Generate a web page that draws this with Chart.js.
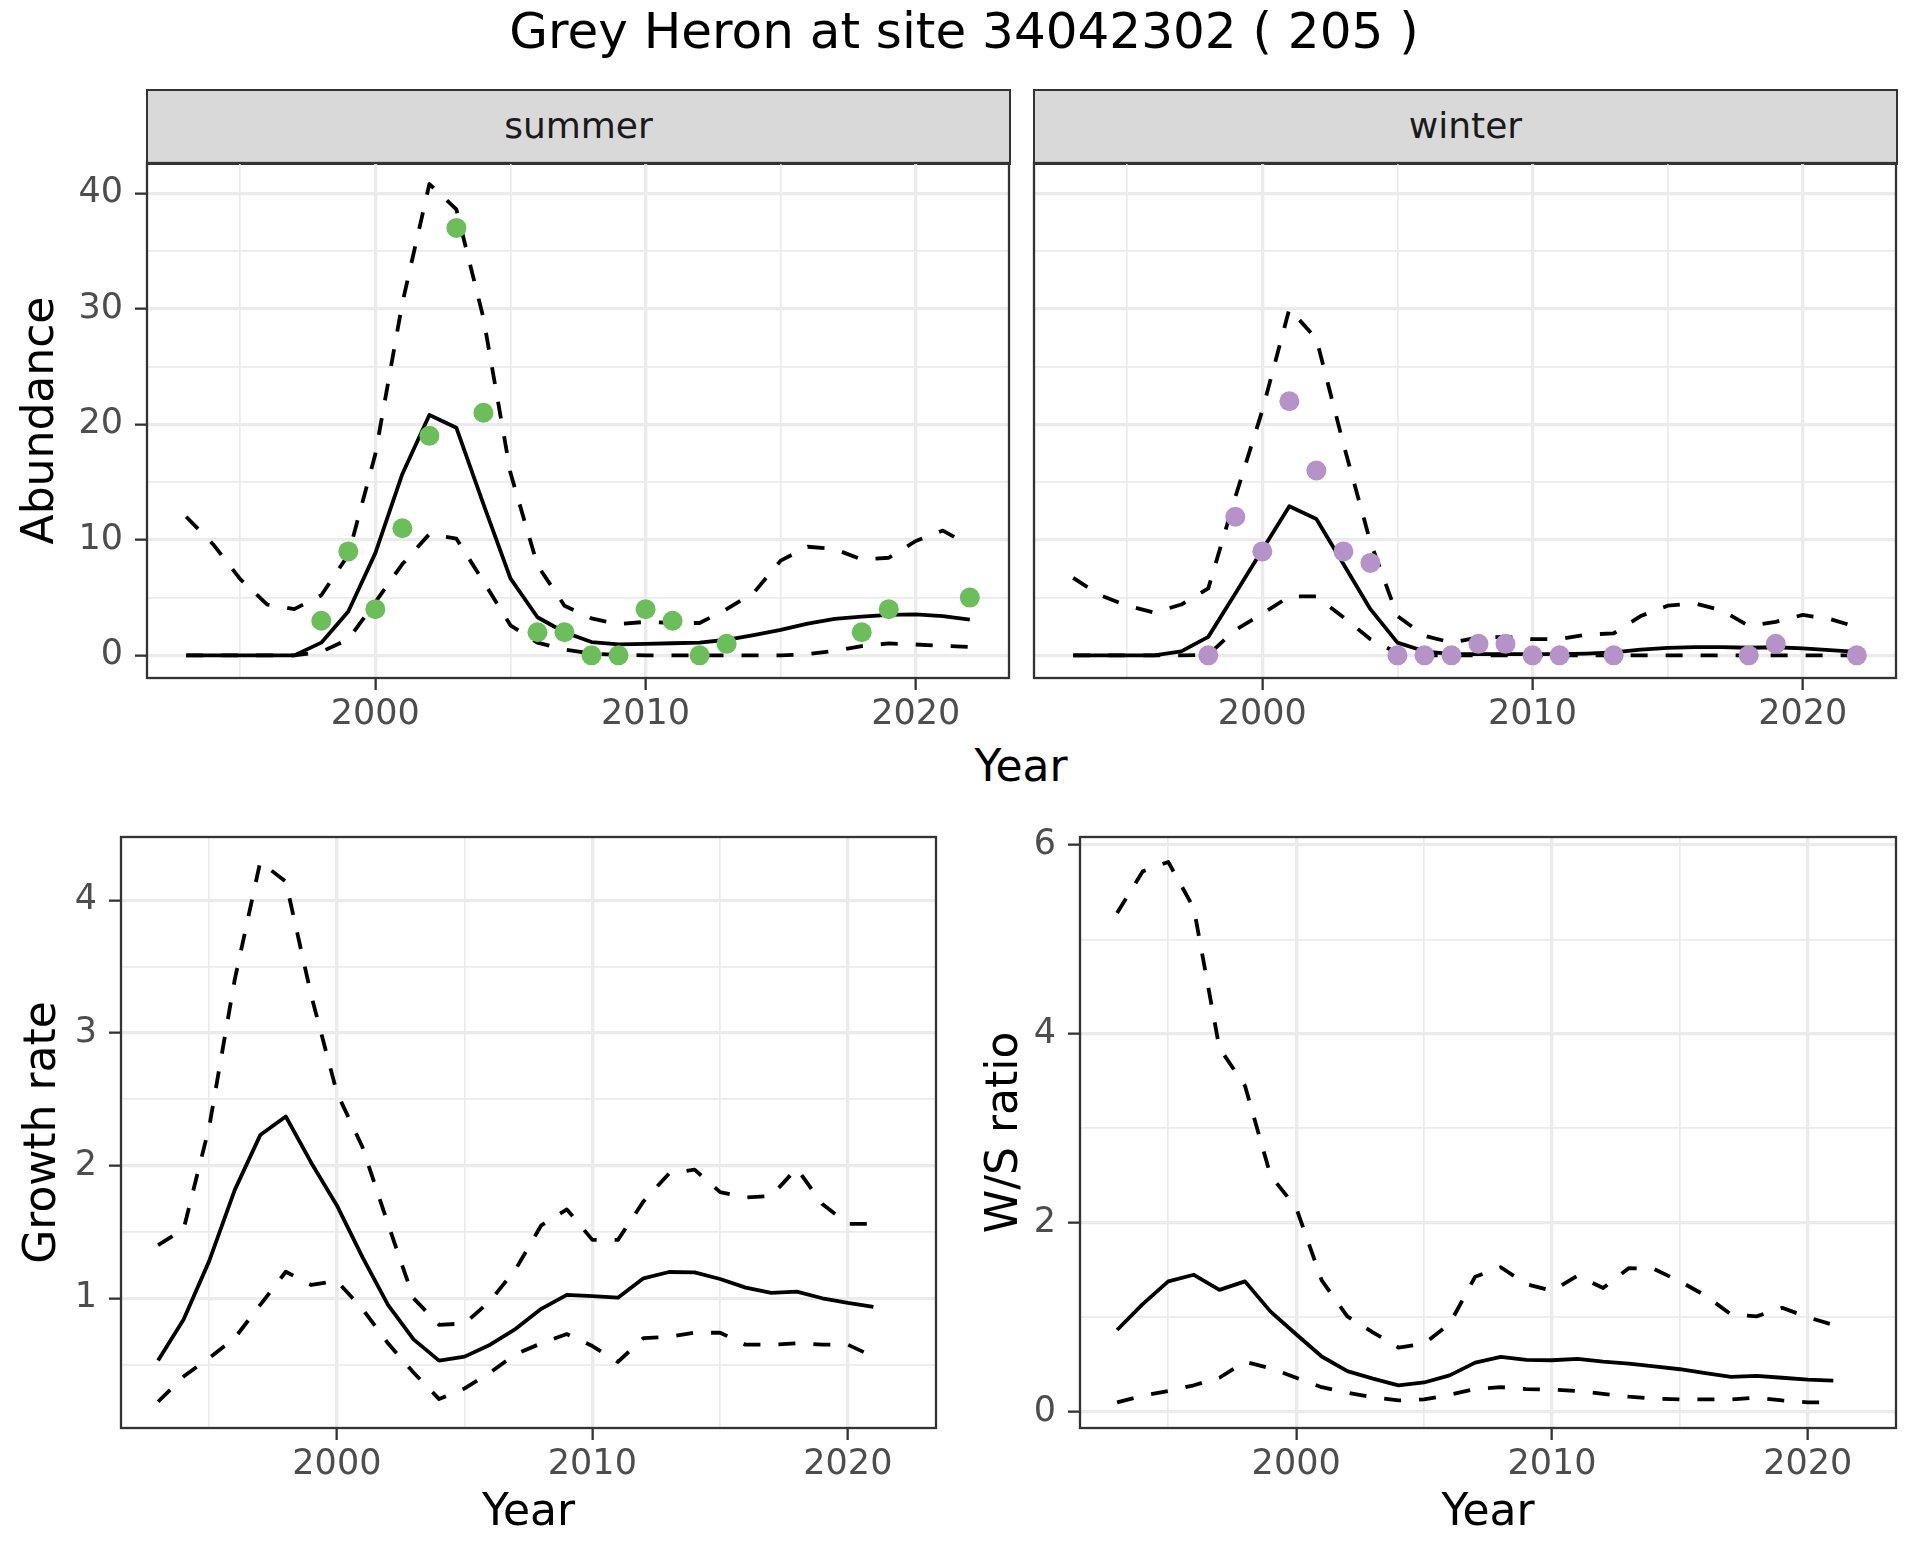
<!DOCTYPE html>
<html>
<head>
<meta charset="utf-8">
<script src="https://cdn.jsdelivr.net/npm/chart.js@4.4.1/dist/chart.umd.min.js"></script>
<style>
  body { margin: 0; width: 1920px; height: 1560px; background: #fff; position: relative; overflow: hidden; font-family: "DejaVu Sans", sans-serif; }
  .abs { position: absolute; }
  #title { left: 4px; top: 6px; width: 1920px; text-align: center; font-size: 50px; line-height: 50px; color: #000; }
  .strip { box-sizing: border-box; background: #D9D9D9; border: 2.3px solid #333333; text-align: center; font-size: 36px; line-height: 70px; color: #1A1A1A; }
  #topYear { left: 0; top: 744px; width: 2042px; text-align: center; font-size: 44px; line-height: 44px; color: #000; }
</style>
</head>
<body>
<div id="title" class="abs">Grey Heron at site 34042302 ( 205 )</div>
<div class="abs strip" style="left:146px;top:89px;width:865px;height:76px;">summer</div>
<div class="abs strip" style="left:1033px;top:89px;width:865px;height:76px;">winter</div>
<div id="topYear" class="abs">Year</div>

<div class="abs" style="left:0;top:139px;width:1013px;height:599px;"><canvas id="summer"></canvas></div>
<div class="abs" style="left:1030px;top:139px;width:870px;height:599px;"><canvas id="winter"></canvas></div>
<div class="abs" style="left:0;top:813px;width:940px;height:747px;"><canvas id="growth"></canvas></div>
<div class="abs" style="left:960px;top:813px;width:940px;height:747px;"><canvas id="ratio"></canvas></div>

<script>
// years
const topYears = [1993, 1994, 1995, 1996, 1997, 1998, 1999, 2000, 2001, 2002, 2003, 2004, 2005, 2006, 2007,
  2008, 2009, 2010, 2011, 2012, 2013, 2014, 2015, 2016, 2017, 2018, 2019, 2020, 2021, 2022];
const rateYears = [1993, 1994, 1995, 1996, 1997, 1998, 1999, 2000, 2001, 2002, 2003, 2004, 2005, 2006, 2007,
  2008, 2009, 2010, 2011, 2012, 2013, 2014, 2015, 2016, 2017, 2018, 2019, 2020, 2021];

// summer abundance
const summerMean = [0, 0, 0, 0, 0, 1.1, 3.8, 8.85, 15.7, 20.8, 19.7, 13.1, 6.66, 3.3, 2.0,
  1.15, 0.95, 1.0, 1.05, 1.1, 1.35, 1.75, 2.2, 2.75, 3.15, 3.35, 3.5, 3.55, 3.4, 3.1];
const summerUpper = [12.0, 9.6, 6.6, 4.4, 4.0, 5.2, 8.7, 17.4, 30.5, 40.8, 38.6, 29.2, 15.8, 7.8, 4.3,
  3.2, 2.7, 2.9, 2.8, 2.8, 4.0, 5.4, 8.2, 9.4, 9.2, 8.3, 8.45, 9.9, 10.8, 9.5];
const summerLower = [0, 0, 0, 0, 0, 0.3, 1.4, 4.6, 7.9, 10.5, 10.1, 6.4, 2.6, 1.1, 0.5,
  0.15, 0.05, 0, 0, 0, 0, 0, 0, 0.1, 0.4, 0.8, 1.03, 0.94, 0.82, 0.73];
const summerCountYears = [1998, 1999, 2000, 2001, 2002, 2003, 2004, 2006, 2007, 2008, 2009, 2010, 2011, 2012, 2013, 2018, 2019, 2022];
const summerCounts = [3, 9, 4, 11, 19, 37, 21, 2, 2, 0, 0, 4, 3, 0, 1, 2, 4, 5];

// winter abundance
const winterMean = [0, 0, 0, 0, 0.35, 1.6, 5.35, 9.15, 12.9, 11.8, 7.9, 4.0, 1.1, 0.35, 0.1,
  0.1, 0.1, 0.1, 0.1, 0.15, 0.25, 0.5, 0.64, 0.72, 0.72, 0.66, 0.7, 0.6, 0.45, 0.3];
const winterUpper = [6.7, 5.2, 4.3, 3.7, 4.4, 5.8, 13.7, 21.2, 30.0, 27.4, 18.3, 9.8, 3.4, 1.7, 1.1,
  1.55, 1.6, 1.4, 1.4, 1.8, 1.9, 3.4, 4.3, 4.5, 3.9, 2.55, 2.9, 3.5, 3.15, 2.45];
const winterLower = [0, 0, 0, 0, 0, 0.05, 2.2, 3.6, 5.1, 5.1, 3.3, 1.4, 0.2, 0, 0,
  0, 0, 0, 0, 0, 0, 0, 0, 0, 0, 0, 0, 0, 0, 0];
const winterCountYears = [1998, 1999, 2000, 2001, 2002, 2003, 2004, 2005, 2006, 2007, 2008, 2009, 2010, 2011, 2013, 2018, 2019, 2022];
const winterCounts = [0, 12, 9, 22, 16, 9, 8, 0, 0, 0, 1, 1, 0, 0, 0, 0, 1, 0];

// growth rate
const growthMean = [0.53, 0.84, 1.28, 1.815, 2.23, 2.37, 2.02, 1.70, 1.31, 0.95, 0.69, 0.53, 0.56, 0.65, 0.77,
  0.92, 1.025, 1.016, 1.004, 1.15, 1.198, 1.195, 1.145, 1.08, 1.04, 1.05, 1.0, 0.965, 0.935];
const growthUpper = [1.40, 1.52, 2.29, 3.4, 4.29, 4.14, 3.28, 2.55, 2.14, 1.56, 1.0, 0.80, 0.81, 0.98, 1.22,
  1.55, 1.67, 1.44, 1.44, 1.73, 1.94, 1.97, 1.80, 1.76, 1.77, 1.98, 1.71, 1.56, 1.56];
const growthLower = [0.22, 0.41, 0.55, 0.70, 0.95, 1.20, 1.10, 1.13, 0.92, 0.66, 0.44, 0.24, 0.32, 0.44, 0.58,
  0.66, 0.73, 0.64, 0.52, 0.70, 0.71, 0.74, 0.74, 0.65, 0.65, 0.66, 0.65, 0.65, 0.56];

// winter / summer ratio
const ratioMean = [0.865, 1.14, 1.38, 1.45, 1.29, 1.38, 1.06, 0.82, 0.585, 0.43, 0.35, 0.28, 0.31, 0.385, 0.52,
  0.58, 0.55, 0.545, 0.56, 0.53, 0.51, 0.48, 0.45, 0.41, 0.37, 0.38, 0.36, 0.34, 0.33];
const ratioUpper = [5.28, 5.72, 5.82, 5.33, 3.85, 3.45, 2.5, 2.16, 1.39, 1.01, 0.84, 0.68, 0.72, 0.93, 1.43,
  1.53, 1.35, 1.28, 1.44, 1.31, 1.52, 1.51, 1.38, 1.23, 1.03, 1.01, 1.10, 1.00, 0.92];
const ratioLower = [0.10, 0.17, 0.22, 0.28, 0.36, 0.53, 0.46, 0.36, 0.26, 0.20, 0.155, 0.12, 0.13, 0.18, 0.24,
  0.26, 0.24, 0.235, 0.22, 0.19, 0.16, 0.14, 0.13, 0.13, 0.13, 0.15, 0.12, 0.10, 0.10];

// tick labels
const yearMajor = [2000, 2010, 2020];
const yearMinor = [1995, 2005, 2015];
const abundMajor = [0, 10, 20, 30, 40];
const abundMinor = [5, 15, 25, 35];
const growthMajor = [1, 2, 3, 4];
const growthMinor = [0.5, 1.5, 2.5, 3.5];
const ratioMajor = [0, 2, 4, 6];
const ratioMinor = [1, 3, 5];

const FONT = 'DejaVu Sans';

function pair(xs, ys) {
  return xs.map((x, i) => ({ x: x, y: ys[i] }));
}

function bandSets(years, mean, upper, lower) {
  const base = { pointRadius: 0, pointHoverRadius: 0, borderColor: '#000000', borderWidth: 3.8, tension: 0, fill: false, order: 1, borderJoinStyle: 'round' };
  return [
    Object.assign({}, base, { data: pair(years, upper), borderDash: [17, 18] }),
    Object.assign({}, base, { data: pair(years, lower), borderDash: [17, 18] }),
    Object.assign({}, base, { data: pair(years, mean) })
  ];
}

function pointSet(years, counts, colour) {
  return { data: pair(years, counts), showLine: false, pointRadius: 10, pointHoverRadius: 10,
    pointBorderWidth: 0, pointBackgroundColor: colour, borderColor: colour, order: 0 };
}

function axis(o) {
  const all = o.major.concat(o.minor);
  const isMajor = c => c.tick && o.major.includes(c.tick.value);
  return {
    type: 'linear', min: o.min, max: o.max, bounds: 'data',
    afterBuildTicks: s => { s.ticks = all.map(v => ({ value: v })); },
    afterFit: s => {
      if (s.isHorizontal()) s.height = o.size; else s.width = o.size;
      s.paddingTop = 0; s.paddingBottom = 0; s.paddingLeft = 0; s.paddingRight = 0;
    },
    grid: {
      color: '#EBEBEB',
      lineWidth: c => isMajor(c) ? 3.3 : 1.7,
      drawTicks: o.labels !== false,
      tickLength: 12,
      tickWidth: 2.3,
      tickColor: c => isMajor(c) ? '#333333' : 'rgba(0,0,0,0)'
    },
    border: { display: false },
    ticks: {
      display: o.labels !== false, autoSkip: false, maxRotation: 0, minRotation: 0,
      padding: o.pad || 0, color: '#4D4D4D', font: { family: FONT, size: 35 },
      callback: v => o.major.includes(v) ? String(v) : ''
    },
    title: o.title ? { display: true, text: o.title, color: '#000000', font: { family: FONT, size: 44 }, padding: o.titlePad } : { display: false }
  };
}

const panelBorder = {
  id: 'panelBorder',
  afterDraw(chart) {
    const a = chart.chartArea;
    const ctx = chart.ctx;
    ctx.save();
    ctx.strokeStyle = '#333333';
    ctx.lineWidth = 2.3;
    ctx.strokeRect(a.left, a.top, a.right - a.left, a.bottom - a.top);
    ctx.restore();
  }
};

function draw(id, datasets, xAxis, yAxis) {
  new Chart(document.getElementById(id), {
    type: 'line',
    data: { datasets: datasets },
    options: {
      responsive: true, maintainAspectRatio: false, animation: false, devicePixelRatio: 1, events: [],
      layout: { autoPadding: false, padding: { top: 24, right: 4, left: 0, bottom: 0 } },
      plugins: { legend: { display: false }, tooltip: { enabled: false } },
      scales: { x: xAxis, y: yAxis }
    },
    plugins: [panelBorder]
  });
}

// top row: panels 163..678, bottom row: panels 837..1428
const topX = () => axis({ min: 1991.55, max: 2023.45, major: yearMajor, minor: yearMinor, size: 60, pad: 4 });
const botX = () => axis({ min: 1991.55, max: 2023.45, major: yearMajor, minor: yearMinor, size: 132, pad: 4,
  title: 'Year', titlePad: { top: 0, bottom: 20 } });

draw('summer',
  bandSets(topYears, summerMean, summerUpper, summerLower).concat([pointSet(summerCountYears, summerCounts, '#6BBE5A')]),
  topX(),
  axis({ min: -1.96, max: 42.62, major: abundMajor, minor: abundMinor, size: 147, pad: 12,
    title: 'Abundance', titlePad: { top: 15, bottom: 0 } }));

draw('winter',
  bandSets(topYears, winterMean, winterUpper, winterLower).concat([pointSet(winterCountYears, winterCounts, '#B592C8')]),
  topX(),
  axis({ min: -1.96, max: 42.62, major: abundMajor, minor: abundMinor, size: 4, labels: false }));

draw('growth',
  bandSets(rateYears, growthMean, growthUpper, growthLower),
  botX(),
  axis({ min: 0.022, max: 4.477, major: growthMajor, minor: growthMinor, size: 121, pad: 12,
    title: 'Growth rate', titlePad: { top: 17, bottom: 0 } }));

draw('ratio',
  bandSets(rateYears, ratioMean, ratioUpper, ratioLower),
  botX(),
  axis({ min: -0.172, max: 6.084, major: ratioMajor, minor: ratioMinor, size: 120, pad: 12,
    title: 'W/S ratio', titlePad: { top: 19, bottom: 0 } }));
</script>
</body>
</html>
